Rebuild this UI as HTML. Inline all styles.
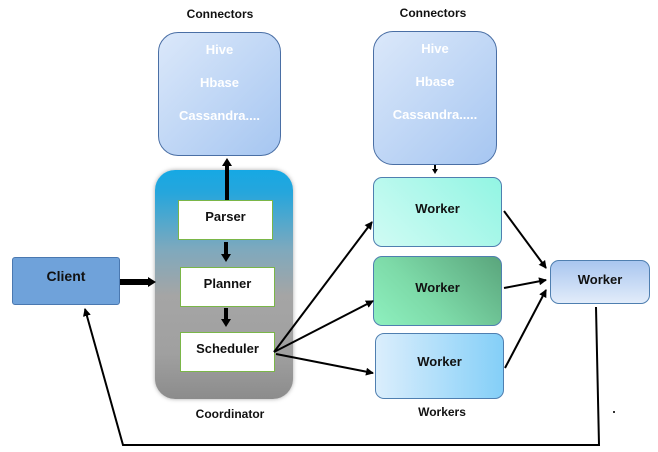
<!DOCTYPE html>
<html><head><style>
body{margin:0;width:658px;height:452px;background:#fff;font-family:"Liberation Sans",sans-serif;font-weight:bold;position:relative;overflow:hidden}
.a{position:absolute;box-sizing:border-box}
.lbl{position:absolute;font-size:12px;color:#111;text-align:center}
.conn{border:1px solid #4a6fa5;border-radius:20px;background:linear-gradient(135deg,#dbe8fa,#a6c6f1);color:#fff;font-size:13px;text-align:center}
.conn div{margin-top:9px;height:24px}
.wb{border:1px solid #4f7fb0;border-radius:9px;font-size:13px;text-align:center;color:#111}
.ib{background:#fff;border:1px solid #7ab648;font-size:13px;text-align:center;color:#111}
</style></head><body>
<div class="lbl" style="left:170px;top:7px;width:100px">Connectors</div>
<div class="lbl" style="left:383px;top:6px;width:100px">Connectors</div>
<div class="a conn" style="left:158px;top:32px;width:123px;height:124px"><div>Hive</div><div>Hbase</div><div>Cassandra....</div></div>
<div class="a conn" style="left:373px;top:31px;width:124px;height:134px"><div>Hive</div><div>Hbase</div><div>Cassandra.....</div></div>
<div class="a" style="left:155px;top:170px;width:138px;height:229px;border-radius:20px;background:linear-gradient(180deg,#16a8e4 0%,#26a6dc 10%,#7fa9bd 35%,#a5a5a5 55%,#a0a0a0 80%,#8c8c8c 100%);box-shadow:0 0 4px #aaa"></div>
<div class="a ib" style="left:178px;top:200px;width:95px;height:40px;padding-top:8px">Parser</div>
<div class="a ib" style="left:180px;top:267px;width:95px;height:40px;padding-top:8px">Planner</div>
<div class="a ib" style="left:180px;top:332px;width:95px;height:40px;padding-top:8px">Scheduler</div>
<div class="lbl" style="left:180px;top:407px;width:100px">Coordinator</div>
<div class="a wb" style="left:373px;top:177px;width:129px;height:70px;padding-top:23px;background:linear-gradient(45deg,#d0fbf4,#92f5e3)">Worker</div>
<div class="a wb" style="left:373px;top:256px;width:129px;height:70px;padding-top:23px;background:linear-gradient(225deg,#5aa57c,#7ddaa8 60%,#8ef0bf)">Worker</div>
<div class="a wb" style="left:375px;top:333px;width:129px;height:66px;padding-top:20px;background:linear-gradient(90deg,#dbeefc,#84cff8)">Worker</div>
<div class="lbl" style="left:392px;top:405px;width:100px">Workers</div>
<div class="a wb" style="left:550px;top:260px;width:100px;height:44px;padding-top:11px;background:linear-gradient(180deg,#a9c6ef,#e2ecfa)">Worker</div>
<div class="a" style="left:12px;top:257px;width:108px;height:48px;background:#6fa2da;border:1px solid #4a78b0;border-radius:3px;font-size:14px;text-align:center;padding-top:10px;color:#111">Client</div>
<div class="a" style="left:613px;top:411px;width:2px;height:2px;background:#333"></div>
<svg class="a" style="left:0;top:0" width="658" height="452">
<defs><marker id="m" markerWidth="8" markerHeight="8" refX="7" refY="4" orient="auto" markerUnits="userSpaceOnUse"><path d="M0,0L8,4L0,8z" fill="#000"/></marker>
<marker id="t" markerWidth="10" markerHeight="10" refX="2" refY="5" orient="auto" markerUnits="userSpaceOnUse"><path d="M0,0L8,5L0,10z" fill="#000"/></marker>
<marker id="s" markerWidth="6" markerHeight="6" refX="2" refY="3" orient="auto" markerUnits="userSpaceOnUse"><path d="M0,0L5,3L0,6z" fill="#000"/></marker></defs>
<g stroke="#000" fill="none">
<line x1="120" y1="282" x2="150" y2="282" stroke-width="6" marker-end="url(#t)"/>
<line x1="227" y1="200" x2="227" y2="164" stroke-width="4" marker-end="url(#t)"/>
<line x1="226" y1="242" x2="226" y2="256" stroke-width="4" marker-end="url(#t)"/>
<line x1="226" y1="308" x2="226" y2="321" stroke-width="4" marker-end="url(#t)"/>
<line x1="435" y1="165" x2="435" y2="171" stroke-width="2" marker-end="url(#s)"/>
<g stroke-width="2">
<line x1="274" y1="352" x2="372" y2="222" marker-end="url(#m)"/>
<line x1="274" y1="352" x2="373" y2="301" marker-end="url(#m)"/>
<line x1="276" y1="354" x2="373" y2="373" marker-end="url(#m)"/>
<line x1="504" y1="211" x2="546" y2="268" marker-end="url(#m)"/>
<line x1="504" y1="288" x2="546" y2="280" marker-end="url(#m)"/>
<line x1="505" y1="368" x2="546" y2="290" marker-end="url(#m)"/>
<polyline points="596,307 599,445 123,445 85,309" marker-end="url(#m)"/>
</g></g></svg>
</body></html>
